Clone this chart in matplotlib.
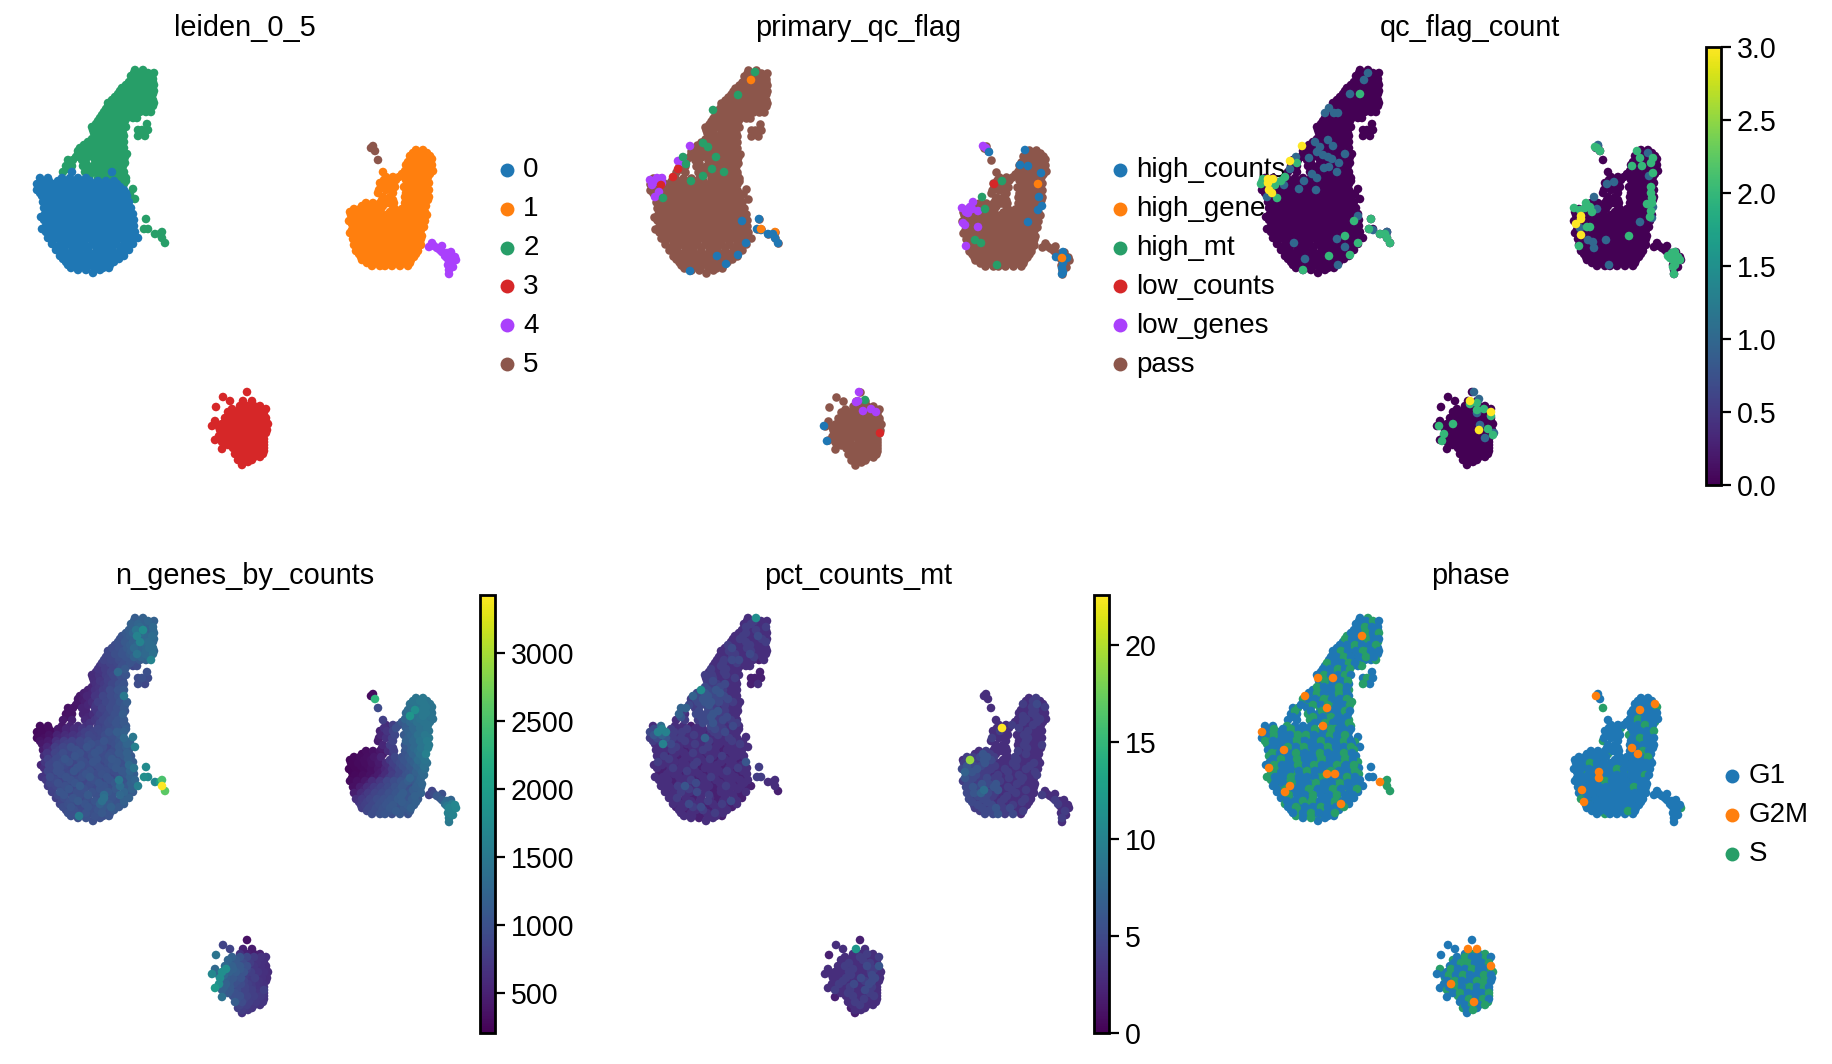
import numpy as np
import matplotlib
matplotlib.use('Agg')
import matplotlib.pyplot as plt
from matplotlib.cm import ScalarMappable
from matplotlib.colors import Normalize

plt.rcParams['font.family'] = ['Liberation Sans', 'DejaVu Sans']
plt.rcParams['font.size'] = 10

# embedding positions are in a 466 x 438 box, y pointing down
# cluster 0
c0_y = [172,178,184,190,196,202,208,214,220,226,232,238,244,250,256,262,268,273,
        181,187,193,199,205,211,217,223,229,235,241,247,253,259,265,270]
c0_x = [[72,112],
        [40,48,62,70,78,86],
        [37,45,53,61,69,77,85,93,101,109,117],
        [37,44,53,60,68,77,84,92,101,108,116,124],
        [42,50,58,67,74,82,91,98,106,115,122,127],
        [43,52,59,67,76,83,90,99,107,114,123,129],
        [44,51,60,68,75,85,92,100,109,116,124,131],
        [45,53,62,69,77,84,93,102,108,117,125,133],
        [44,53,60,68,77,85,92,100,107,116,125,134],
        [46,54,61,70,78,86,95,102,110,118,126,134],
        [46,55,62,71,78,87,94,103,110,119,127,135],
        [48,56,65,72,80,89,96,104,113,120,128,138],
        [52,60,68,77,84,92,101,108,116,124,133],
        [56,64,73,80,88,97,104,112,121,129],
        [60,68,76,85,92,100,109,116,124],
        [66,74,83,90,98,106,114],
        [71,79,87,95,103,109],
        [93],
        [41,49,58,66,74,82,90,98,106,114],
        [41,49,57,65,73,81,89,97,105,112,120],
        [40,48,56,64,72,80,88,96,104,111,119,126],
        [47,55,63,71,79,87,95,103,111,119,126],
        [47,55,63,71,80,88,95,103,111,119,127],
        [48,56,65,72,80,88,97,105,112,120,128],
        [41,49,57,65,73,81,89,97,104,112,121,129],
        [48,57,65,74,82,90,98,106,114,122,130],
        [42,50,58,66,74,82,90,98,107,114,122,130],
        [50,58,67,75,83,91,99,107,115,123,131],
        [52,61,69,76,84,93,100,108,116,125,132],
        [58,64,72,80,88,96,104,112,120,128],
        [62,70,78,87,95,102,110,118,124],
        [63,71,80,88,96,103,111,119],
        [68,78,86,94,102,110],
        [78,86,100]]
c0_genes = [[480,980],
            [300,320,420,520,600,640],
            [280,300,320,430,520,620,800,860,900,1050,1150],
            [290,330,380,560,640,700,820,900,880,950,1000,1300],
            [420,460,720,830,780,900,1020,960,880,1000,1100,1250],
            [450,620,840,900,1000,860,940,1050,880,960,1020,1100],
            [600,700,920,860,1040,900,980,880,1020,950,1100,1080],
            [720,880,960,1020,880,960,1040,900,980,1080,1000,1150],
            [640,900,980,860,1040,920,860,1000,940,1100,1020,1450],
            [700,860,1000,920,860,1050,940,1020,880,960,1080,1150],
            [760,920,860,1020,940,880,1000,860,1040,1500,1020,1250],
            [780,880,1000,860,1120,940,880,1040,960,1350,1080,1600],
            [820,1040,900,980,880,1020,940,1080,1000,1250,1120],
            [800,940,1050,900,980,860,1400,1050,980,1200],
            [860,980,900,1040,960,1200,1100,1020,1150],
            [880,1000,920,980,1050,1000,1100],
            [1000,1550,960,1020,980,1040],
            [980],
            [300,310,430,540,620,700,800,880,920,1000],
            [300,360,520,600,680,760,900,860,960,1000,1100],
            [360,440,640,780,840,900,960,880,1040,980,1060,1200],
            [560,780,880,980,860,1040,920,1000,880,1080,1150],
            [700,860,960,880,1020,900,1060,940,1000,1100,1200],
            [820,920,1060,900,980,860,1040,960,1100,980,1200],
            [560,880,1000,920,860,1040,940,1000,880,1060,1000,1300],
            [880,1000,900,1060,940,1020,880,1000,960,1100,1250],
            [700,960,860,1020,900,1000,1100,940,1040,880,1000,1200],
            [880,1000,920,1040,880,960,1060,940,1080,1000,1200],
            [840,960,1060,900,1000,920,1040,980,1100,1020,1200],
            [900,1040,880,980,1100,1000,1350,1040,1280,1100],
            [880,1000,1100,960,1040,1380,1050,1000,1200],
            [960,1040,920,1060,1000,1100,1200,1100],
            [1000,940,1050,980,1100,1050],
            [980,1020,1000]]
c0_mt = [[4,3],
         [3,8,3,3,2,3],
         [5,10,10,4,4,3,3,2,4,3,3],
         [4,5,6,4,4,3,3,7,3,3,4,3],
         [3,10,5,3,3,4,3,2,3,3,3,4],
         [3,3,4,3,2,3,4,3,2,3,3,3],
         [3,4,3,2,3,3,2,3,4,2,3,3],
         [4,3,3,3,2,4,3,2,3,3,2,6],
         [3,2,4,3,3,2,3,3,2,3,4,3],
         [2,3,3,2,3,3,2,3,3,3,2,3],
         [3,3,2,3,4,2,3,3,2,3,3,3],
         [3,3,4,6,2,3,3,2,4,3,3,2],
         [3,2,4,3,5,3,2,3,3,2,3],
         [3,4,3,2,3,3,2,3,3,2],
         [3,3,5,3,2,3,4,2,3],
         [3,2,3,4,2,3,3],
         [3,3,2,3,3,2],
         [3],
         [5,10,4,3,4,3,3,4,3,3],
         [6,7,4,3,3,4,3,3,4,3,3],
         [4,4,3,3,4,3,3,4,3,3,4,3],
         [3,3,4,2,3,3,4,3,2,3,3],
         [3,2,3,3,4,2,3,3,2,3,3],
         [3,4,2,3,3,3,4,2,3,3,2],
         [3,3,3,2,3,4,2,3,3,2,3,3],
         [2,3,3,4,3,2,3,3,4,2,3],
         [3,3,2,3,3,2,3,4,2,3,3,2],
         [3,2,3,3,5,3,2,3,3,2,3],
         [3,3,2,4,3,3,2,3,3,3,2],
         [3,3,3,2,3,4,2,3,3,2],
         [3,2,3,3,4,2,3,5,3],
         [2,3,4,5,2,3,3,2],
         [3,3,2,3,4,3],
         [3,2,3]]
c0_phase = ["GG","GGSGGG","MSGGSGGSGSG","GSGGSGSGGSGG","SGGGSGGSGGSG","GSMGGSGGSGGS",
            "SGGSGGSGGGSG","GSGGSGSGGSGS","MSGGSGGSGGSG","SGGSGGSMMGGS","SGSGGSGGSGGG",
            "GSMGGSGGSGSG","GMGSGGSGGSG","GSGGSGGSGG","SGGSGGSMG","GSGGSGG","SGGSGG","G",
            "GSGSGGSGSG","GSGGSSGGSGS","SGGGSGGSGGSG","GGSGSGGSGGS","SGGSGGSGGSG","GSGSGGSGGSG",
            "GSGGSGSGGSGS","SGGGSGGSGGS","SGGSGGGSGGSG","GGSGGSGGSGG","GSGGSGGSGGS","GSGGSGGSGG",
            "GGSSGGSGG","GSGGSGGS","GGSGGS","GSG"]

# cluster 1
c1_y = [150,156,162,168,172,174,180,187,193,200,206,212,218,224,230,236,242,248,254,260,266,
        153,159,165,171,177,183,190,197,203,209,215,221,227,233,239,245,251,257,263]
c1_x = [[416,423],
        [410,417,424,430],
        [408,415,422,429],
        [410,416,423,431],
        [383],
        [402,410,417,424,430],
        [384,389,396,406,413,420,427],
        [381,388,395,404,411,418,425],
        [378,393,406,413,420,427],
        [382,388,393,407,414,421,428],
        [362,370,377,383,393,406,413,420,426],
        [350,357,364,371,378,390,397,404,411,418,425],
        [354,361,368,375,382,389,396,403,410,417,424],
        [352,359,367,374,381,388,395,402,409,416,422],
        [352,360,367,374,382,389,396,403,410,417,421],
        [355,362,369,376,383,390,397,404,411,418,422],
        [357,364,371,378,385,392,399,406,413,420],
        [358,365,373,380,387,394,401,408,415,418],
        [359,367,374,381,388,395,402,409,416],
        [362,369,376,383,390,397,404,411],
        [372,380,385,392,400,408],
        [413,420,427],
        [412,419,426,432],
        [406,412,419,426,432],
        [405,413,420,427,433],
        [386,393,399,406,413,420,428],
        [380,387,393,408,415,422,429],
        [379,386,392,408,415,422,429],
        [383,390,405,411,418,425,429],
        [366,373,380,388,394,405,411,418,424],
        [354,360,367,374,381,395,402,409,416,423],
        [351,358,365,372,379,386,393,400,407,414,421,427],
        [349,356,364,371,378,385,392,399,406,413,420,425],
        [355,363,370,378,385,392,399,406,413,420,424],
        [350,357,365,372,380,387,394,401,408,415,420],
        [353,360,367,374,381,388,395,402,409,416,421],
        [354,361,368,375,382,389,396,403,410,417,421],
        [356,362,370,377,384,391,398,405,412,418],
        [361,365,372,379,386,393,400,407,414],
        [367,375,382,389,396,403,410]]
c1_genes = [[1450,1500],
            [1400,1450,1500,1450],
            [1350,1800,1500,1450],
            [1900,1400,1500,1450],
            [800],
            [1100,1300,1400,1450,1400],
            [650,520,1000,1150,1300,1400,1450],
            [550,480,900,1100,1250,1400,1500],
            [450,850,1200,1300,1450,1550],
            [450,500,800,1100,1300,1450,1550],
            [280,300,320,420,700,1050,1250,1400,1600],
            [260,280,320,350,420,750,900,1050,1150,1350,1450],
            [270,290,310,340,400,620,820,1000,1100,1250,1400],
            [250,270,300,340,450,600,760,900,1050,1200,1300],
            [260,290,330,420,560,720,820,950,1250,1150,1250],
            [300,350,480,620,760,850,950,1100,1000,1200,1250],
            [350,520,680,800,880,960,1050,950,1150,1050],
            [420,680,820,900,950,1020,1150,1000,1200,1050],
            [680,820,900,980,1050,960,1150,1050,1180],
            [780,900,960,1020,1080,980,1100,1180],
            [960,1020,1060,1000,1100,1020],
            [1450,1500,1450],
            [1400,1450,1500,1450],
            [1300,1400,1450,1500,1400],
            [1250,1350,1450,1400,1400],
            [600,800,1000,1150,1300,1400,1450],
            [500,700,850,1200,1300,1400,1450],
            [480,650,820,1200,1300,1400,1500],
            [550,780,1050,1200,1300,1450,1500],
            [320,350,400,600,800,1050,1200,1350,1400],
            [280,300,330,400,520,900,1000,1100,1250,1400],
            [260,290,320,360,440,600,820,950,1050,1180,1300,1400],
            [250,270,300,340,420,560,760,900,1000,1100,1250,1350],
            [280,310,350,440,600,780,880,1020,1100,1200,1300],
            [300,340,420,600,720,880,960,1040,1150,1100,1220],
            [340,460,620,740,840,920,1020,1100,1000,1180,1200],
            [480,600,760,860,920,1000,1060,1140,1060,1150,1200],
            [640,740,860,940,1000,1060,1120,1040,1150,1100],
            [760,800,900,980,1040,1100,1020,1120,1150],
            [880,960,1020,1060,1120,1040,1100]]
c1_mt = [[3,4],
         [4,3,5,3],
         [3,3,4,3],
         [4,3,4,3],
         [3],
         [3,4,3,4,3],
         [3,22.6,3,4,3,3,3],
         [3,3,3,3,4,3,3],
         [3,3,3,4,3,3],
         [3,3,3,3,4,3,3],
         [3,6,4,3,3,3,4,3,3],
         [3,19,4,6,5,3,3,4,3,3,3],
         [6,5,5,3,4,3,3,4,3,4,3],
         [7,6,4,4,3,3,4,3,3,3,4],
         [6,5,4,5,4,3,4,3,4,3,3],
         [5,4,6,5,6,3,3,4,3,3,3],
         [4,4,8,4,6,3,4,3,4,3],
         [4,5,5,4,3,4,3,3,3,3],
         [5,4,5,3,4,3,3,4,3],
         [4,5,4,6,4,5,3,3],
         [5,5,6,4,5,3],
         [3,4,3],[3,4,3,4],[3,3,4,3,3],[3,4,3,4,3],[3,3,4,3,3,4,3],[3,4,3,3,4,3,3],[4,3,3,3,4,3,3],
         [3,3,3,4,3,3,4],[3,4,3,3,3,4,3,3,3],[4,4,5,6,4,3,4,3,3,3],[4,5,4,6,4,3,3,4,3,3,4,3],
         [5,5,6,4,4,3,4,3,3,4,3,3],[5,5,4,3,4,3,3,4,3,3,4],[4,5,4,4,3,4,3,3,4,3,3],
         [5,6,5,4,6,3,4,3,3,3,3],[5,6,7,5,4,3,3,4,3,3,3],[5,4,5,4,3,4,3,3,4,3],[4,5,4,5,3,3,4,3,3],[4,5,4,4,3,3,4]]
c1_phase = ["GG","GGSM","GMGS","GSGG","G","GSGGS","GGSGGSG","GGGSGGG","SGGSGG","GGGMGSG",
            "GGGSGGMSG","GSGGSGGSGGG","SGGGSGSGGGS","GSGMGGGSGGG","GGGMGGGSGGG","GSGGGGGSGGG",
            "MGGGSGGGGS","GGSGGGGGGG","MSGGGGGSG","GGSGSGSG","GSGGGG",
            "GGG","GGGS","GGGGG","GSGGG","GGGGGSG","GGGGGGS","GGGGSGG","GGGGGGG","GGGGGGGSG","GGGGGGGGGS",
            "GGSGGGGGGGGG","GGGGGGSGGGGG","GGGGGGGGGSG","GGGGSGGGGGG","GGGGGGGGSGG","GGGGGGGGGGG",
            "SGGGGGGGGG","GGGGGGGGG","GGGGGSG"]

# cluster 2
c2_y = [70,76,82,88,94,100,106,112,118,124,130,136,142,148,154,160,166,172,178,184,189,194,199,219,229,232,234,238,243,
        73,79,85,91,97,103,109,115,121,127,133,139,145,151,157,163,169,175,181]
c2_x = [[135,143],
        [131,138,146,152],
        [129,136,143,150,153],
        [122,130,137,145,152],
        [118,125,133,140,148,153],
        [112,119,127,134,142,149,153],
        [108,115,122,130,137,145,153],
        [104,111,119,126,133,140,146,151],
        [100,108,115,122,127,133,137],
        [96,103,111,118,123,147],
        [93,100,108,115,122,138,142,148],
        [96,104,112,119,124,145,138],
        [88,95,103,110,118,124],
        [80,87,95,103,111,118,124],
        [78,85,92,98,106,113,120,127],
        [68,73,82,95,102,110,117,124],
        [66,72,83,93,100,108,115,123],
        [63,85,95,103,110,118,124],
        [98,106,113,120,126],
        [104,112,120,124],
        [133],[130],[135],[146],[144,148],[162],[155,160],[162],[165],
        [134,141,148,154],
        [133,140,147,153],
        [126,133,141,148,154],
        [120,127,134,141,149,154],
        [115,122,130,137,145,151],
        [108,116,123,131,138,146,154],
        [106,112,119,126,134,141,149],
        [102,110,117,124,130],
        [98,105,113,120,125],
        [92,99,106,113,120,126],
        [94,100,108,116,123],
        [92,99,107,114,122],
        [84,92,99,107,114,122],
        [78,83,90,99,107,115,122],
        [76,88,96,103,112,119,125],
        [70,86,97,105,112,120,125],
        [68,88,98,106,114,122],
        [90,100,108,116,124],
        [102,110,118,126]]
c2_genes = [[1150,1200],
            [1200,1250,1150,1150],
            [1150,1450,1750,1200,1250],
            [1050,1150,1650,1300,1350],
            [1000,1100,1200,1650,1350,1250],
            [950,1000,1100,1300,1250,1350,1350],
            [900,980,1050,1100,1450,1300,1400],
            [850,900,950,900,1050,1100,1200,1650],
            [700,750,820,1000,1000,900,950],
            [620,700,850,1300,950,1000],
            [560,680,800,900,1000,950,1000,950],
            [640,760,900,1000,1050,900,950],
            [500,650,780,950,1050,1100],
            [420,560,700,880,950,1000,1500],
            [400,480,620,800,900,950,1050,1150],
            [350,380,520,700,850,950,1000,1100],
            [340,360,520,620,800,900,1000,1150],
            [420,580,720,880,950,1050,1100],
            [750,880,950,1000,1100],
            [900,1000,1100,1200],
            [1500],[1250],[1600],[1750],[1800,1750],[2500],[1700,2000],[3430],[2600],
            [1150,1200,1250,1200],
            [1200,1300,1200,1300],
            [1100,1250,1350,1200,1300],
            [1000,1100,1200,1300,1250,1300],
            [950,1000,1150,1250,1300,1350],
            [880,950,1050,1150,1250,1300,1250],
            [850,900,980,1050,1200,1250,1300],
            [780,850,900,1000,1050],
            [700,780,850,950,1100],
            [600,680,780,880,1000,1050],
            [620,720,820,900,1000],
            [560,680,800,900,1050],
            [480,560,700,820,920,1050],
            [400,450,560,720,850,950,1050],
            [380,560,720,820,940,1000,1100],
            [360,520,700,840,950,1000,1050],
            [360,560,760,880,980,1050],
            [680,840,950,1050,1100],
            [800,950,1050,1150]]
c2_mt = [[3,11],
         [3,4,3,3],
         [3,3,4,3,3],
         [3,4,3,5,3],
         [3,3,4,3,3,4],
         [3,5,3,4,3,3,3],
         [3,3,4,3,5,3,3],
         [3,4,5,5,3,3,2,3],
         [3,4,3,3,2,3,3],
         [3,3,4,3,3,2],
         [3,4,3,3,4,2,2,2],
         [3,4,5,3,3,3,2],
         [11,5,6,4,3,3],
         [7,5,6,5,5,3,3],
         [4,5,6,6,5,4,4,3],
         [7,7,4,5,4,3,3,3],
         [7,3,5,5,6,4,3,2],
         [3,4,5,4,5,4,3],
         [5,4,3,5,3],
         [4,5,3,3],
         [3],[3],[3],[4],[4,4],[3],[3,3],[3],[2],
         [3,4,3,3],[4,3,3,4],[3,4,3,3,3],[3,4,3,3,4,3],[4,3,3,4,3,3],[3,4,3,3,4,3,3],[3,3,4,3,3,4,3],
         [3,4,3,4,3],[4,3,4,3,3],[4,4,3,4,3,3],[4,5,3,3,3],[5,4,5,3,3],[5,6,5,6,3,3],[4,5,6,5,4,5,3],
         [5,5,6,4,4,3,3],[4,5,5,6,4,3,3],[6,5,6,4,5,3],[5,6,4,3,4],[5,4,3,3]]
c2_phase = ["GS","GSGS","GSGSG","SGMGS","GSGGSS","GSSGSGG","SGGSGSG","GSGGSGGS","GSGSGGS","GSSGGG",
            "MGMSGGSG","SGGSGGS","GSGSGS","MSGSSGG","GSGSSGGS","GSGSMGGS","GGSGSGSG","GSGSGGS",
            "MGSGS","GSGG","G","S","G","G","GG","S","MS","S","S",
            "GGSG","GSGG","GGSGS","SGGSGG","GGSGGS","GSGGSGG","GGSGGSG","SGGSG","GGSGS","GSGGSG","GSGGS",
            "SGGSG","GSGGSG","SGGSGGS","GSGSGGS","SGSGGSG","GSGSGG","GSGGS","GSGG"]

# cluster 3
c3_y = [392,397,401,406,407,412,418,421,424,426,430,436,440,442,448,449,454,460,465,
        409,415,421,427,433,439,445,451,457,462]
c3_x = [[247],[223],[230,243,252],
        [240,247,254,260],
        [216],
        [228,236,243,250,257,264],
        [225,232,240,247,254,261,266],
        [215],
        [222,229,236,244,251,258,264,268],
        [212],
        [220,226,233,241,248,255,262,267],
        [219,226,234,241,248,256,263],
        [215],
        [222,230,237,245,252,259,264],
        [233,240,247,254,261,264],
        [222],
        [235,242,249,256,263],
        [238,245,252],
        [242],
        [232,240,247,254,261,266],
        [229,236,243,250,257,264],
        [226,233,240,247,254,261,266],
        [219,224,231,238,245,252,259,266],
        [222,230,237,244,252,259,266],
        [224,230,237,245,252,259,264],
        [228,235,243,250,257,264],
        [237,244,251,258,264],
        [240,247,254,260],
        [242,248]]
c3_genes = [[350],[850],[850,500,450],
            [650,500,450,520],
            [1450],
            [1250,1100,850,700,650,650],
            [1300,1200,1100,1000,700,650,620],
            [1300],
            [1800,1200,1150,1050,800,700,650,600],
            [1700],
            [1800,1150,1100,1050,750,800,650,620],
            [1800,1200,1000,950,800,700,650],
            [1950],
            [1200,1100,950,850,800,700,800],
            [1000,1000,850,800,750,700],
            [1400],
            [1150,950,800,750,700],
            [800,750,700],
            [700],
            [1200,1050,900,750,680,650],
            [1150,1100,950,780,680,620],
            [1800,1200,1100,850,700,650,620],
            [1200,1300,1100,1000,800,700,620,620],
            [1200,1100,1000,850,750,680,620],
            [1200,1100,950,850,750,680,650],
            [1100,1000,850,800,720,680],
            [1000,850,780,720,680],
            [850,800,720,680],
            [780,720]]
c3_mt = [[2],[3],[3,12,3],
         [3,3,4,3],
         [2],
         [3,3,3,4,3,3],
         [3,4,3,3,5,3,6],
         [3],
         [3,3,4,3,3,4,3,3],
         [3],
         [3,3,4,3,5,3,5,3],
         [3,4,3,5,3,5,3],
         [3],
         [4,3,4,3,5,3,3],
         [3,4,3,3,4,3],
         [2],
         [3,4,3,3,3],
         [2,3,3],
         [2],
         [3,3,4,3,3,4],[3,4,3,3,4,3],[3,3,4,3,3,4,3],[3,3,3,4,3,3,5,3],[3,4,3,3,4,5,3],
         [3,3,4,3,3,4,3],[3,4,3,3,4,3],[3,3,4,3,3],[3,4,3,3],[3,3]]
c3_phase = ["G","G","GMM","GSGS","G","SGGSGG","GSGGSGM","S","GSGGSGGS","G","SGGSGGSG",
            "GMGSGSG","G","SGGSGSG","SGGSGS","G","GSMGS","SGG","G",
            "GSGGSG","GSSGGS","SGGSGGS","GSGSGGSG","GSGGSSG","GSGSGSG","GSGGGS","GSGSG","GSGS","GS"]

# clusters 4 and 5 are small enough to list cell by cell
c4_x = [429,432,437,442,442,447,451,447,452,456,452,453,449,449,434,440,445,449,455,448]
c4_y = [247,243,248,246,252,253,252,258,256,260,263,267,270,274,246,250,256,260,257,265]
c4_genes = [800,850,1100,1000,1150,1300,1250,1500,1550,1700,1600,1650,1550,1500,950,1000,1350,1650,1700,1600]
c4_mt = [4,3,3,3,4,3,3,3,3,3,4,3,4,3,3,3,4,3,3,3]
c4_phase = "GGGGGGGGGSGGGGGGGGGG"

c5_x = [373,371,375,378]
c5_y = [146,148,151,160]
c5_genes = [300,300,2300,950]
c5_mt = [3,3,3,3]
c5_phase = "GMGS"

# cells that did not pass qc, everything else is "pass" with count 0
flag_x = [142,138,125,100,77,90,95,103,65,70,70,73,65,60,99,111,90,78,
          37,44,49,39,40,45,49,48,46,42,50,
          146,129,144,148,148,162,155,160,162,165,133,104,125,113,77,
          370,373,376,412,381,389,369,407,415,428,425,426,429,425,415,
          349,353,357,360,355,365,350,352,365,353,359,372,362,368,384,
          443,450,454,450,449,450,449,449,
          211,214,246,252,243,245,250,258,263,267]
flag_y = [72,80,95,110,146,143,147,157,161,162,157,164,169,177,169,172,176,181,
          180,178,178,185,182,182,183,185,192,197,198,
          219,221,229,230,229,232,234,234,238,243,243,256,255,264,271,
          146,148,152,150,184,181,197,165,166,173,184,197,206,210,222,
          208,212,207,202,213,211,223,225,227,246,209,209,240,243,265,
          257,252,258,263,268,272,274,258,
          426,441,392,400,402,401,411,409,412,433]
flag_name = ['high_mt','high_genes','high_mt','high_mt','low_genes','high_mt','high_mt','high_mt','low_genes','low_genes','high_mt','high_mt','low_counts','low_counts','high_mt','high_mt','high_mt','high_mt',
             'low_genes','low_genes','low_genes','low_genes','low_genes','low_genes','low_genes','low_counts','low_genes','low_genes','high_mt',
             'high_counts','high_counts','high_counts','high_counts','high_genes','high_genes','high_counts','high_counts','high_counts','high_counts','high_counts','high_counts','high_counts','high_counts','high_counts',
             'low_genes','low_genes','high_counts','high_counts','low_counts','high_mt','high_mt','high_counts','high_counts','high_counts','high_genes','high_counts','high_counts','high_counts','high_counts',
             'low_genes','low_genes','low_genes','low_genes','low_genes','low_genes','low_genes','low_genes','low_genes','low_genes','low_genes','high_mt','high_mt','high_mt','high_mt',
             'high_counts','high_counts','high_counts','high_counts','high_counts','high_counts','high_counts','high_genes',
             'high_counts','high_counts','low_genes','high_mt','low_genes','low_genes','low_genes','low_genes','low_genes','low_counts']

count_x = [143,139,125,135,104,100,109,113,77,90,103,95,92,108,120,98,103,107,84,65,71,72,65,114,99,104,112,87,92,79,
           60,56,59,50,36,37,38,43,48,43,44,47,42,52,74,91,133,129,146,144,148,162,155,160,162,165,120,112,69,133,120,104,125,80,113,78,
           373,372,375,370,412,415,423,428,426,407,417,428,424,382,389,426,426,427,427,422,369,428,426,425,427,415,
           349,355,361,365,360,367,372,356,356,351,362,365,355,356,404,381,363,368,354,369,384,
           443,447,450,453,455,448,445,450,448,449,
           249,245,254,245,252,252,259,252,266,266,228,214,255,254,263,268,260,269,219,217]
count_y = [73,80,94,94,108,113,113,113,146,142,140,147,152,146,154,155,157,159,158,161,157,163,169,163,168,167,172,174,178,181,
           177,181,185,185,184,182,179,183,179,179,190,193,197,198,189,190,216,221,219,229,230,232,234,234,238,243,236,239,243,243,247,256,255,259,265,270,
           145,148,151,147,151,158,153,158,163,166,166,173,176,184,182,187,193,198,203,204,197,207,211,217,218,222,
           208,210,203,207,208,212,209,216,219,224,227,227,228,235,236,240,240,242,246,248,265,
           256,253,252,257,260,260,258,265,267,274,
           392,401,399,404,403,410,409,413,412,416,424,426,425,430,429,435,438,433,434,441]
count_value = [1,1,1,2,1,1,1,1,3,1,1,1,1,1,1,1,1,1,1,3,1,2,1,1,1,1,1,1,1,1,
               2,2,1,2,2,2,2,3,3,3,3,3,1,2,1,1,1,2,2,2,1,1,2,2,2,2,2,1,1,2,1,2,2,1,1,2,
               1,2,2,2,2,2,1,2,2,2,2,2,1,1,1,2,2,2,2,2,1,1,2,2,1,1,
               2,2,2,2,2,2,1,3,3,3,2,2,1,3,2,1,1,1,2,1,1,
               2,2,2,2,2,2,2,2,2,2,
               1,3,1,2,2,2,2,1,3,2,2,2,1,3,2,2,1,1,2,2]

leiden_names = ['0','1','2','3','4','5']
leiden_colors = ['#1f77b4','#ff7f0e','#279e68','#d62728','#aa40fc','#8c564b']
flag_names = ['high_counts','high_genes','high_mt','low_counts','low_genes','pass']
phase_names = ['G1','G2M','S']
phase_colors = ['#1f77b4','#ff7f0e','#279e68']
phase_codes = {'G':'G1','M':'G2M','S':'S'}
genes_ticks = [500,1000,1500,2000,2500,3000]
mt_ticks = [0,5,10,15,20]
count_ticks = [0,0.5,1,1.5,2,2.5,3]

def flat(rows):
    return [v for r in rows for v in r]

def row_y(y, x_rows):
    return list(np.repeat(y, [len(r) for r in x_rows]))

# green cluster goes first, the big blue one sits on top of it
x = np.array(flat(c2_x) + flat(c0_x) + flat(c1_x) + flat(c3_x) + c4_x + c5_x, dtype=float)
y = np.array(row_y(c2_y, c2_x) + row_y(c0_y, c0_x) + row_y(c1_y, c1_x) + row_y(c3_y, c3_x) + c4_y + c5_y, dtype=float)
genes = np.array(flat(c2_genes) + flat(c0_genes) + flat(c1_genes) + flat(c3_genes) + c4_genes + c5_genes, dtype=float)
mt = np.array(flat(c2_mt) + flat(c0_mt) + flat(c1_mt) + flat(c3_mt) + c4_mt + c5_mt, dtype=float)
phase = [phase_codes[c] for c in ''.join(c2_phase + c0_phase + c1_phase + c3_phase) + c4_phase + c5_phase]
cluster = ['2'] * len(flat(c2_x)) + ['0'] * len(flat(c0_x)) + ['1'] * len(flat(c1_x)) + ['3'] * len(flat(c3_x)) + ['4'] * len(c4_x) + ['5'] * len(c5_x)

W, H = 1832, 1064
DOT = 9.5
fig = plt.figure(figsize=(W / 200, H / 200), dpi=200)

def panel(left, top, title):
    ax = fig.add_axes([left / W, 1 - (top + 438) / H, 466 / W, 438 / H])
    ax.set_xlim(12, 478)
    ax.set_ylim(485, 47)
    ax.axis('off')
    ax.set_title(title, fontsize=10.4, pad=4)
    return ax

def add_legend(ax, names, colors):
    handles = [ax.scatter([], [], s=25, color=c, linewidths=0, label=n) for n, c in zip(names, colors)]
    ax.legend(handles=handles, frameon=False, loc='center left', bbox_to_anchor=(1, 0.497),
              borderaxespad=0.2, handlelength=0.88, handletextpad=0.15, fontsize=10, labelspacing=0.466)

def add_colorbar(left, top, norm, ticks, fmt=None):
    cax = fig.add_axes([left / W, 1 - (top + 438) / H, 15 / W, 438 / H])
    cb = fig.colorbar(ScalarMappable(norm=norm, cmap='viridis'), cax=cax, ticks=ticks, format=fmt)
    cb.outline.set_linewidth(1)
    cb.ax.tick_params(labelsize=10.3, width=0.8, length=3.5, pad=2.2)

# leiden_0_5
ax = panel(12, 47, 'leiden_0_5')
cmap = dict(zip(leiden_names, leiden_colors))
ax.scatter(x, y, s=DOT, c=[cmap[c] for c in cluster], linewidths=0)
add_legend(ax, leiden_names, leiden_colors)

# primary_qc_flag
ax = panel(625, 47, 'primary_qc_flag')
cmap = dict(zip(flag_names, leiden_colors))
ax.scatter(x, y, s=DOT, c=cmap['pass'], linewidths=0)
ax.scatter(flag_x, flag_y, s=DOT, c=[cmap[f] for f in flag_name], linewidths=0)
add_legend(ax, flag_names, leiden_colors)

# qc_flag_count
ax = panel(1237, 47, 'qc_flag_count')
norm = Normalize(0, 3)
ax.scatter(x, y, s=DOT, c=np.zeros(len(x)), cmap='viridis', norm=norm, linewidths=0)
order = np.argsort(count_value, kind='stable')
ax.scatter(np.array(count_x)[order], np.array(count_y)[order], s=DOT, c=np.array(count_value)[order],
           cmap='viridis', norm=norm, linewidths=0)
add_colorbar(1706, 47, norm, count_ticks, '%.1f')

# n_genes_by_counts
ax = panel(12, 595, 'n_genes_by_counts')
norm = Normalize(208, 3430)
order = np.argsort(genes, kind='stable')
ax.scatter(x[order], y[order], s=DOT, c=genes[order], cmap='viridis', norm=norm, linewidths=0)
add_colorbar(480, 595, norm, genes_ticks)

# pct_counts_mt
ax = panel(625, 595, 'pct_counts_mt')
norm = Normalize(0, 22.6)
order = np.argsort(mt, kind='stable')
ax.scatter(x[order], y[order], s=DOT, c=mt[order], cmap='viridis', norm=norm, linewidths=0)
add_colorbar(1094, 595, norm, mt_ticks)

# phase, G2M cells are drawn last
ax = panel(1237, 595, 'phase')
cmap = dict(zip(phase_names, phase_colors))
order = np.argsort([p == 'G2M' for p in phase], kind='stable')
ax.scatter(x[order], y[order], s=DOT, c=[cmap[phase[i]] for i in order], linewidths=0)
add_legend(ax, phase_names, phase_colors)

fig.savefig('out.png', dpi=200)
